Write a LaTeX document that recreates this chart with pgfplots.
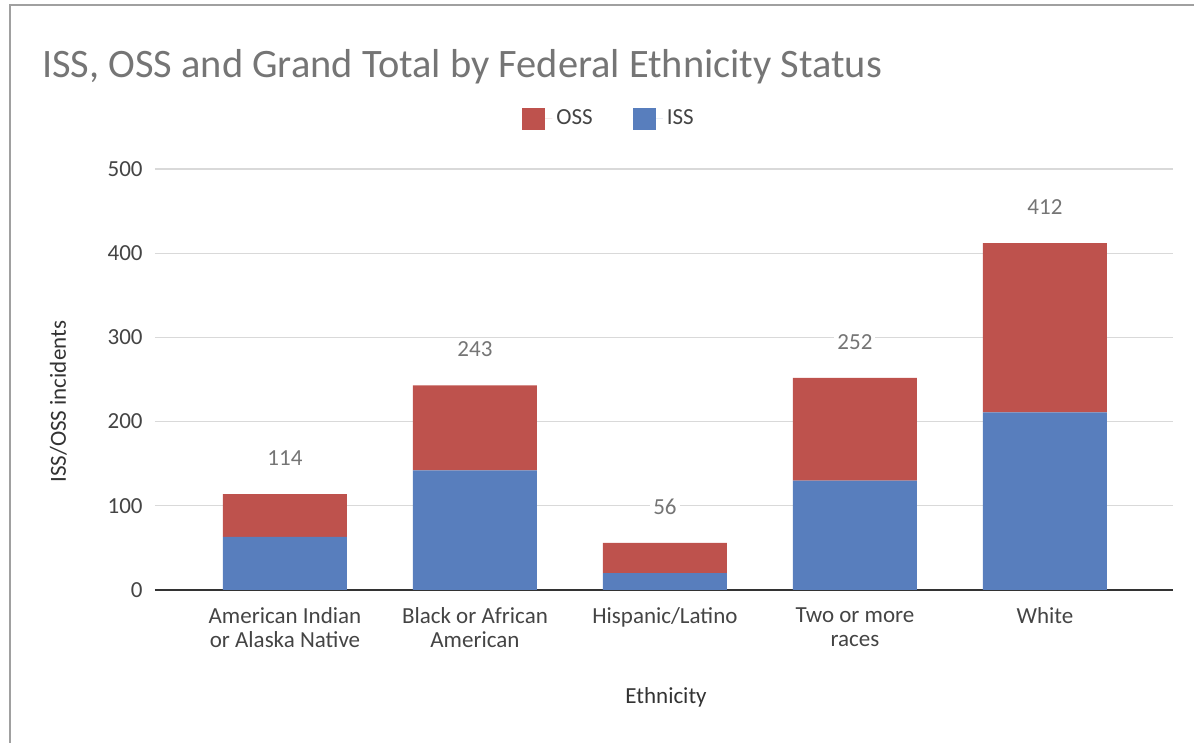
\documentclass[border=0pt]{standalone}
\usepackage{pgfplots}
\pgfplotsset{compat=1.18}
\usepackage{fontspec}
\setmainfont{Carlito}

\definecolor{issblue}{HTML}{587EBD}
\definecolor{ossred}{HTML}{BE524D}
\definecolor{gridgray}{HTML}{D9D9D9}
\definecolor{titlegray}{HTML}{757575}
\definecolor{labelgray}{HTML}{444444}
\definecolor{framegray}{HTML}{A0A0A0}

\begin{document}
\begin{tikzpicture}
\path[use as bounding box] (-77.5pt,-76.5pt) rectangle (519.5pt,295pt);
\draw[framegray, line width=1.3pt] (-72.5pt,-76.5pt) -- (-72.5pt,292.5pt) -- (519.5pt,292.5pt);

\node[anchor=base west, text=titlegray, font=\fontsize{20.2}{24}\selectfont]
  at (-60pt,256pt) {ISS, OSS and Grand Total by Federal Ethnicity Status};

\begin{axis}[
  at={(0,0)}, anchor=south west,
  scale only axis, width=509pt, height=210.5pt,
  ybar stacked, bar width=62pt, stacked ignores zero=false,
  xmin=-0.684, xmax=4.674,
  ymin=0, ymax=500,
  ytick={0,100,200,300,400,500},
  xtick={0,1,2,3,4},
  xticklabels={American Indian\\or Alaska Native, Black or African\\American, Hispanic/Latino, Two or more\\races, White},
  axis x line*=bottom, axis y line*=left,
  x axis line style={draw=black!80, line width=1pt},
  y axis line style={draw=none},
  major tick length=0pt,
  ymajorgrids, grid style={gridgray, line width=0.6pt},
  /pgf/number format/assume math mode=true,
  tick label style={font=\fontsize{11.5}{12}\selectfont, text=labelgray},
  yticklabel style={inner sep=0pt, xshift=-6pt},
  xticklabel style={align=center, inner sep=0pt, yshift=-8.5pt},
  xlabel={Ethnicity}, ylabel={ISS/OSS incidents},
  label style={font=\fontsize{11.5}{12}\selectfont, text=black!80},
  xlabel style={at={(axis description cs:0.502,-0.254)}, anchor=center},
  ylabel style={at={(axis description cs:-0.095,0.447)}, anchor=center, rotate=0},
  legend style={at={(axis description cs:0.447,1.119)}, anchor=center, draw=none,
    font=\fontsize{11.5}{12}\selectfont, text=labelgray,
    /tikz/every even column/.append style={column sep=18pt}},
  legend columns=2, reverse legend,
  legend image code/.code={\fill[#1,draw=none] (0pt,-5.5pt) rectangle (11.5pt,5.5pt);
    \path (0pt,0pt) -- (15pt,0pt);},
]
\addplot[fill=issblue, draw=none] coordinates {(0,63) (1,142) (2,20) (3,130) (4,211)};
\addplot[fill=ossred, draw=none] coordinates {(0,51) (1,101) (2,36) (3,122) (4,201)};
% zero-height layer that only carries the grand total labels
\addplot[draw=none, fill=none, forget plot, point meta=explicit, nodes near coords,
  every node near coord/.append style={anchor=center, yshift=18pt, fill=white,
    inner sep=1.5pt, text=titlegray, font=\fontsize{11.5}{12}\selectfont}]
  coordinates {(0,0) [114] (1,0) [243] (2,0) [56] (3,0) [252] (4,0) [412]};
\legend{ISS, OSS}
\end{axis}
\end{tikzpicture}
\end{document}
